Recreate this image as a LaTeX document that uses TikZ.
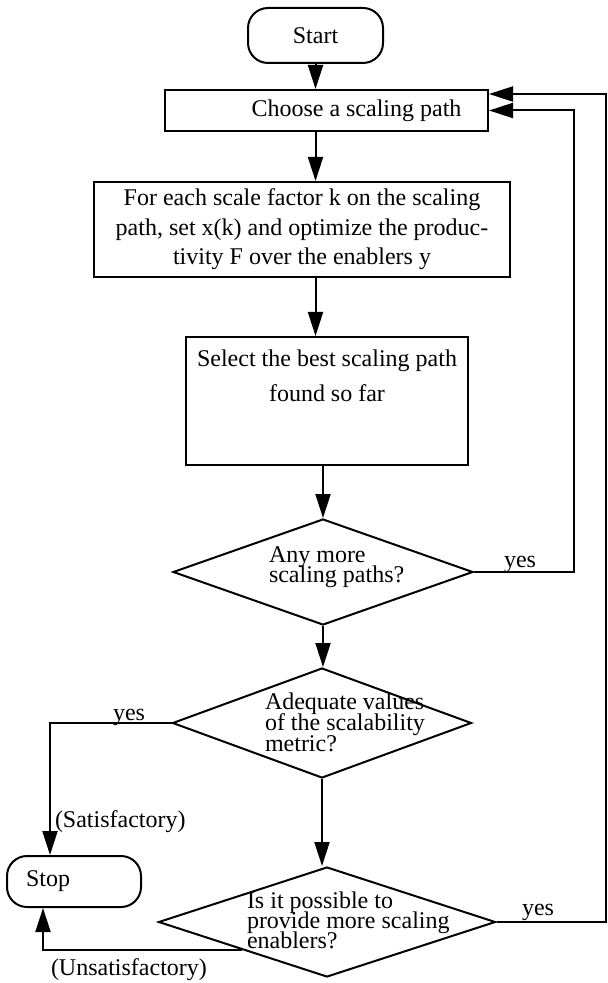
\documentclass[tikz,border=0pt]{standalone}
\usepackage{fontspec}
\setmainfont{Liberation Serif}
\usetikzlibrary{shapes.geometric}
\usetikzlibrary{arrows.meta}
\newcommand\tightlines{\lineskiplimit=-50pt\relax}

\begin{document}
    \begin{tikzpicture}[x=0.5pt, y=-0.5pt, line width=1pt,
            font=\fontsize{12}{14}\selectfont,
            flow/.style={-{Triangle[length=12pt,width=7.5pt]}},
            term/.style={rectangle, rounded corners=10pt, draw, inner sep=0pt},
            box/.style={rectangle, draw, inner sep=0pt},
            decision/.style={diamond, draw, inner sep=0pt},
            question/.style={anchor=north west, inner sep=0pt, align=left},
            tag/.style={anchor=base west, inner sep=0pt}]
        \useasboundingbox (0,0) rectangle (608,983);

        \node (start) [term, minimum width=67.5pt, minimum height=27.5pt] at (315.5,35.5) {Start};
        \node (choose) [box, minimum width=161.5pt, minimum height=20.5pt] at (326.5,110.5)
            {\hspace*{30pt}Choose a scaling path};
        \node (foreach) [box, minimum width=208pt, minimum height=47.5pt, align=center,
            font=\fontsize{12}{14.75}\selectfont] at (302,229.5)
            {For each scale factor k on the scaling\\path, set x(k) and optimize the produc-\\tivity F over the enablers y};
        \node (select) [box, minimum width=141pt, minimum height=64pt] at (327,401) {};
        \node (selecttext) [anchor=north, inner sep=0pt, align=center,
            font=\fontsize{12}{17.5}\selectfont] at (327,349)
            {Select the best scaling path\\found so far};

        % decisions, text set apart from the diamonds
        \node (more) [decision, minimum width=150pt, minimum height=53pt] at (323,572) {};
        \node (moretext) [question, font=\fontsize{12}{10}\selectfont\tightlines]
            at (268,546) {Any more\\scaling paths?};
        \node (adeq) [decision, minimum width=149.5pt, minimum height=55pt] at (322,723) {};
        \node (adeqtext) [question, font=\fontsize{12}{10.5}\selectfont\tightlines]
            at (264,692) {Adequate values\\of the scalability\\metric?};
        \node (enab) [decision, minimum width=168.5pt, minimum height=55pt] at (327,922) {};
        \node (enabtext) [question, font=\fontsize{12}{10}\selectfont\tightlines]
            at (246,891) {Is it possible to\\provide more scaling\\enablers?};

        \node (stop) [term, text width=48pt, align=left, inner xsep=9.5pt, minimum height=25.5pt]
            at (74,881.5) {Stop};

        \draw [flow] (start.south) -- (start.south |- choose.north);
        \draw [flow] (choose.south -| start) -- (start |- foreach.north);
        \draw [flow] (foreach.south -| start) -- (start |- select.north);
        \draw [flow] (select.south -| more) -- (more.north);
        \draw [flow] (more.south) -- (more.south |- adeq.north);
        \draw [flow] (adeq.south) -- (adeq.south |- enab.north);

        \draw [flow] (more.east) -- ++(100,0) |- (choose.east);
        \coordinate (edge) at (606,94);
        \draw [flow] (enab.east) -- (enab.east -| edge) -- (edge) -- (edge -| choose.east);
        \draw [flow] (adeq.west) -| ([xshift=-12pt]stop.north);
        \draw [flow] (enab.south west) -| ([xshift=-15.5pt]stop.south);

        \node (yesmore) [tag] at (503,567) {yes};
        \node (yesadeq) [tag] at (112,720) {yes};
        \node (yesenab) [tag] at (521,915) {yes};
        \node (satis) [tag] at (54,827) {(Satisfactory)};
        \node (unsatis) [tag] at (50,975) {(Unsatisfactory)};
    \end{tikzpicture}
\end{document}
